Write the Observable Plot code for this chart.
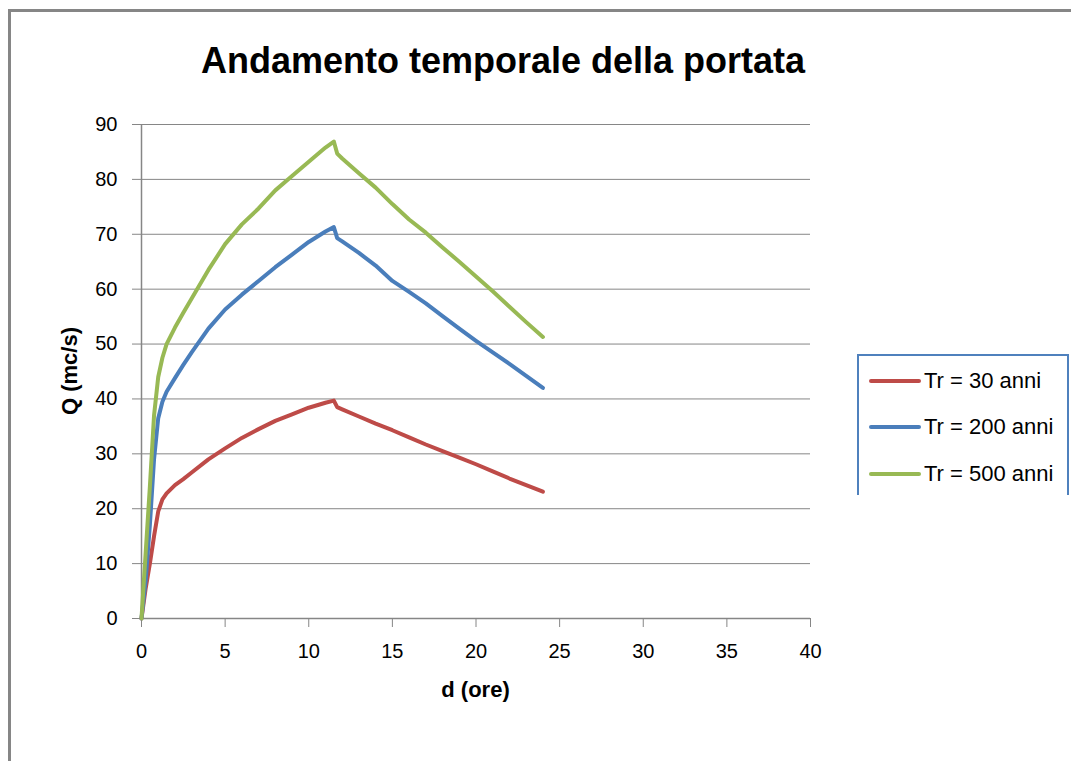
<!DOCTYPE html>
<html>
<head>
<meta charset="utf-8">
<script src="https://cdn.jsdelivr.net/npm/d3@7"></script>
<script src="https://cdn.jsdelivr.net/npm/@observablehq/plot@0.6"></script>
<style>
  html, body { margin: 0; padding: 0; background: #fff; }
  #wrap { position: relative; width: 1071px; height: 761px; overflow: hidden; background: #fff; font-family: "Liberation Sans", Arial, sans-serif; }
  #frame { position: absolute; left: 8px; top: 9px; width: 1200px; height: 900px; border: 3px solid #868686; box-sizing: border-box; }
  #chart { position: absolute; left: 0; top: 0; }
  #title { position: absolute; left: 0; width: 1006px; top: 40px; text-align: center; font-weight: bold; font-size: 36px; color: #000; white-space: nowrap; }
  #xlabel { position: absolute; left: 141px; width: 669px; top: 677px; text-align: center; font-weight: bold; font-size: 22px; color: #000; }
  #ylabel { position: absolute; left: 70px; top: 371px; transform: translate(-50%, -50%) rotate(-90deg); font-weight: bold; font-size: 22px; color: #000; white-space: nowrap; }
  #legend { position: absolute; left: 857px; top: 354px; width: 212px; height: 141px; border-top: 2px solid #4f81bd; border-left: 2px solid #4f81bd; border-right: 2px solid #4f81bd; box-sizing: border-box; background: #fff; }
  .item { position: absolute; left: 10px; height: 26px; display: flex; align-items: center; font-size: 22px; color: #000; white-space: nowrap; }
  .swatch { width: 52px; height: 4px; margin-right: 3px; border-radius: 2px; }
</style>
</head>
<body>
<div id="wrap">
  <div id="frame"></div>
  <div id="chart"></div>
  <div id="title">Andamento temporale della portata</div>
  <div id="xlabel">d (ore)</div>
  <div id="ylabel">Q (mc/s)</div>
  <div id="legend"></div>
</div>
<script>
// ---- data ----
const hours = [0, 0.25, 0.5, 0.75, 1, 1.25, 1.5, 2, 2.5, 3, 4, 5, 6, 7, 8, 9, 10, 11, 11.5, 11.7, 12, 13, 14, 15, 16, 17, 18, 19, 20, 21, 22, 23, 24];
const q30  = [0, 5.5, 10, 15, 19.5, 21.7, 22.8, 24.3, 25.4, 26.6, 29, 31, 32.9, 34.5, 36, 37.2, 38.4, 39.3, 39.7, 38.5, 38.1, 36.8, 35.5, 34.3, 33, 31.7, 30.5, 29.3, 28.1, 26.8, 25.5, 24.3, 23.1];
const q200 = [0, 7, 17, 29, 36.5, 39.5, 41.3, 43.8, 46.2, 48.5, 52.8, 56.3, 59, 61.5, 64, 66.3, 68.6, 70.5, 71.3, 69.3, 68.7, 66.6, 64.3, 61.5, 59.5, 57.4, 55.1, 52.8, 50.6, 48.5, 46.4, 44.2, 42.0];
const q500 = [0, 12, 24, 37, 44, 47.5, 50, 53, 55.7, 58.3, 63.5, 68.2, 71.8, 74.7, 78, 80.6, 83.2, 85.8, 86.9, 84.7, 83.8, 81.1, 78.5, 75.5, 72.7, 70.3, 67.6, 65, 62.3, 59.6, 56.8, 54, 51.3];
const seriesNames = ["Tr = 30 anni", "Tr = 200 anni", "Tr = 500 anni"];
const seriesColors = ["#be4b48", "#4a7ebb", "#98b954"];
const xTicks = [0, 5, 10, 15, 20, 25, 30, 35, 40];
const yTicks = [0, 10, 20, 30, 40, 50, 60, 70, 80, 90];

const allSeries = [q30, q200, q500];
const rows = seriesNames.flatMap((s, i) => hours.map((h, j) => ({series: s, d: h, q: allSeries[i][j]})));

const gray = "#868686";
const chart = Plot.plot({
  width: 1071,
  height: 761,
  marginLeft: 141,
  marginRight: 261,
  marginTop: 124,
  marginBottom: 143,
  style: {fontFamily: "'Liberation Sans', Arial, sans-serif", fontSize: "20px", background: "transparent", color: "#000"},
  x: {domain: [0, 40], label: null},
  y: {domain: [0, 90], label: null},
  color: {domain: seriesNames, range: seriesColors},
  marks: [
    Plot.gridY(yTicks, {stroke: gray, strokeOpacity: 1, strokeWidth: 1}),
    Plot.ruleX([0], {stroke: gray, strokeWidth: 1.5}),
    Plot.ruleY([0], {stroke: gray, strokeWidth: 1.5}),
    Plot.axisY(yTicks, {tickSize: 9, tickPadding: 15, stroke: gray, fill: "#000", fontSize: 20, label: null}),
    Plot.axisX(xTicks, {tickSize: 9, tickPadding: 16, stroke: gray, fill: "#000", fontSize: 20, label: null}),
    Plot.line(rows, {x: "d", y: "q", z: "series", stroke: "series", strokeWidth: 4, strokeLinejoin: "round", strokeLinecap: "round"})
  ]
});
document.getElementById("chart").appendChild(chart);

// legend
const legend = document.getElementById("legend");
const legendTops = [12, 58, 105];
seriesNames.forEach((s, i) => {
  const item = document.createElement("div");
  item.className = "item";
  item.style.top = legendTops[i] + "px";
  const sw = document.createElement("div");
  sw.className = "swatch";
  sw.style.background = seriesColors[i];
  const t = document.createElement("span");
  t.textContent = s;
  item.appendChild(sw);
  item.appendChild(t);
  legend.appendChild(item);
});
</script>
</body>
</html>
